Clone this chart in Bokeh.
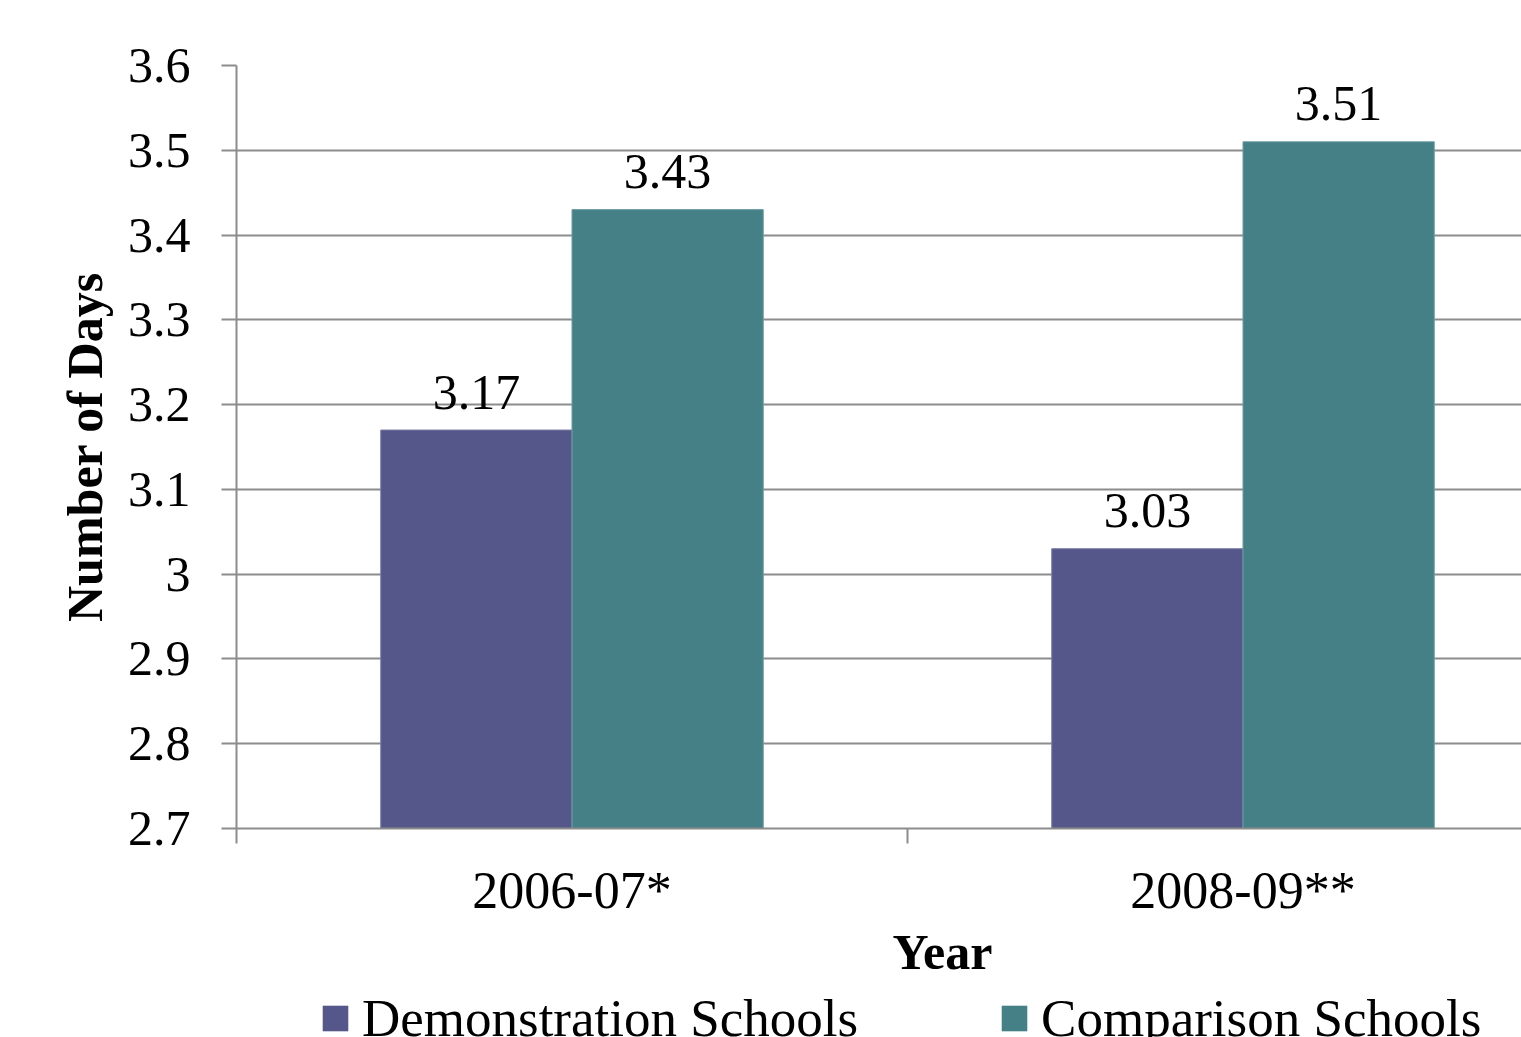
from bokeh.plotting import figure
from bokeh.models import Range1d, FixedTicker, Legend, LegendItem, Title
from bokeh.layouts import column
from bokeh.core.properties import value
from bokeh.embed import file_html
from bokeh.resources import INLINE

# ---- data ----
years = ["2006-07*", "2008-09**"]
demonstration = [3.17, 3.03]
comparison = [3.43, 3.51]
series_names = ["Demonstration Schools", "Comparison Schools"]
y_ticks = [2.7, 2.8, 2.9, 3.0, 3.1, 3.2, 3.3, 3.4, 3.5, 3.6]
y_tick_labels = ["2.7", "2.8", "2.9", "3", "3.1", "3.2", "3.3", "3.4", "3.5", "3.6"]

# ---- style / layout ----
FONT = "Liberation Serif"
C_DEMO = "#55568A"
C_COMP = "#458086"
EDGE_DEMO = "#7a7aa6"
EDGE_COMP = "#6a9ea3"
GRID = "#8C8C8C"
W = 1521
H_MAIN, H_LEG = 985, 52
LEFT, TOP = 236, 65
FRAME_BOTTOM = 828
CAT_PX = 671
frame_w = W - LEFT
x_end = frame_w / CAT_PX
bar_w = 0.285

p = figure(width=W, height=H_MAIN, x_range=Range1d(0, x_end), y_range=Range1d(2.7, 3.6),
           output_backend="svg", toolbar_location=None,
           min_border_left=LEFT, min_border_right=0, min_border_top=TOP,
           min_border_bottom=H_MAIN - FRAME_BOTTOM)
p.outline_line_color = None
p.background_fill_color = "white"
p.border_fill_color = "white"

centers = [i + 0.5 for i in range(len(years))]
x_demo = [c - bar_w / 2 for c in centers]
x_comp = [c + bar_w / 2 for c in centers]

p.vbar(x=x_demo, top=demonstration, bottom=2.7, width=bar_w,
       fill_color=C_DEMO, line_color=EDGE_DEMO, line_width=1)
p.vbar(x=x_comp, top=comparison, bottom=2.7, width=bar_w,
       fill_color=C_COMP, line_color=EDGE_COMP, line_width=1)

p.text(x=x_demo, y=demonstration, text=[f"{v:.2f}" for v in demonstration],
       text_align="center", text_baseline="alphabetic", y_offset=-38,
       text_font=value(FONT), text_font_size="50px", text_color="black")
p.text(x=x_comp, y=comparison, text=[f"{v:.2f}" for v in comparison],
       text_align="center", text_baseline="alphabetic", y_offset=-38,
       text_font=value(FONT), text_font_size="50px", text_color="black")

# y axis
p.yaxis.ticker = FixedTicker(ticks=y_ticks)
p.yaxis.major_label_overrides = {t: l for t, l in zip(y_ticks, y_tick_labels)}
p.yaxis.major_label_text_font = FONT
p.yaxis.major_label_text_font_size = "50px"
p.yaxis.major_label_text_color = "black"
p.yaxis.major_tick_out = 15
p.yaxis.major_tick_in = 0
p.yaxis.minor_tick_line_color = None
p.yaxis.major_label_standoff = 31
p.yaxis.axis_line_color = GRID
p.yaxis.axis_line_width = 2
p.yaxis.major_tick_line_color = GRID
p.yaxis.major_tick_line_width = 2
p.yaxis.axis_label = "Number of Days"
p.yaxis.axis_label_text_font = FONT
p.yaxis.axis_label_text_font_style = "bold"
p.yaxis.axis_label_text_font_size = "50px"
p.yaxis.axis_label_text_color = "black"
p.yaxis.axis_label_standoff = 12

p.ygrid.ticker = FixedTicker(ticks=y_ticks)
p.ygrid.grid_line_color = GRID
p.ygrid.grid_line_width = 2
p.xgrid.grid_line_color = None

# x axis
p.xaxis.ticker = FixedTicker(ticks=centers, minor_ticks=[float(i) for i in range(len(years) + 1)])
p.xaxis.major_label_overrides = {c: y for c, y in zip(centers, years)}
p.xaxis.major_label_text_font = FONT
p.xaxis.major_label_text_font_size = "52px"
p.xaxis.major_label_text_color = "black"
p.xaxis.major_tick_line_color = None
p.xaxis.major_tick_out = 0
p.xaxis.major_tick_in = 0
p.xaxis.major_label_standoff = 18
p.xaxis.minor_tick_in = 0
p.xaxis.minor_tick_out = 15
p.xaxis.minor_tick_line_color = GRID
p.xaxis.minor_tick_line_width = 2
p.xaxis.axis_line_color = GRID
p.xaxis.axis_line_width = 2

year_title = Title(text="Year", align="left", offset=656, standoff=0,
                   text_font=FONT, text_font_style="bold", text_font_size="50px",
                   text_color="black")
p.add_layout(year_title, "below")

# ---- legend strip below the chart ----
p2 = figure(width=W, height=H_LEG, x_range=Range1d(0, 1), y_range=Range1d(0, 1),
            output_backend="svg", toolbar_location=None,
            x_axis_location=None, y_axis_location=None,
            min_border_left=LEFT, min_border_right=0,
            min_border_top=0, min_border_bottom=0)
p2.outline_line_color = None
p2.xgrid.visible = False
p2.ygrid.visible = False
p2.background_fill_color = "white"
p2.border_fill_color = "white"
# legend swatches (placed outside the visible range so only the legend shows them)
d1 = p2.vbar(x=[5], top=[5], width=0.1, fill_color=C_DEMO, line_color=None)
d2 = p2.vbar(x=[5], top=[5], width=0.1, fill_color=C_COMP, line_color=None)

LEG_H = 61
legend = Legend(items=[LegendItem(label=series_names[0], renderers=[d1]),
                       LegendItem(label=series_names[1], renderers=[d2])],
                orientation="horizontal", location=(319 - LEFT, H_LEG - 1.5 - LEG_H),
                glyph_width=32, glyph_height=32, label_standoff=11, spacing=140,
                padding=0, margin=0, border_line_color=None,
                background_fill_alpha=0,
                label_text_font=FONT, label_text_font_size="53px",
                label_text_color="black")
p2.add_layout(legend, "center")

layout = column(p, p2, spacing=0)
open("out.html", "w").write(file_html(layout, INLINE))
